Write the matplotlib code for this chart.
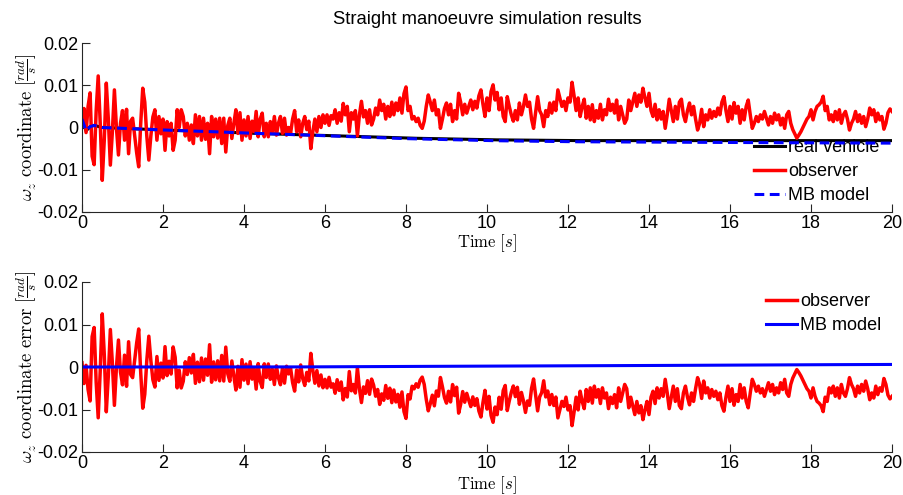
import numpy as np
import matplotlib
matplotlib.use("Agg")
import matplotlib.pyplot as plt

plt.rcParams["mathtext.fontset"] = "cm"
plt.rcParams["font.family"] = ["Liberation Sans", "DejaVu Sans"]

# Time base of the sampled traces [s]
t_obs = np.round(np.arange(0, 20.0001, 0.05), 2)

# Observer estimate of omega_z, in units of 1e-4 rad/s (one value every 0.05 s)
observer_e4 = [
    10, 45, -12, 50, 82, -68, -88, 40, 122, 10, -125, -30, 105, 20, -89, -10, 89, 0, -65, 10,
    40, -30, 43, -62, 15, 22, -20, -60, -93, 10, 93, 60, -20, -77, -20, 25, 42, -30, 26, -15,
    20, -54, 14, -20, 10, -54, -30, 42, 0, 42, 26, -20, 10, -30, 6, -38, 30, -20, 26, -30,
    22, -28, 10, -62, 26, -22, 20, -25, 22, -38, 22, -58, 5, 22, -26, 10, 42, -14, 35, -30,
    18, -20, 26, -26, 15, -10, 38, -22, 20, 34, -22, 10, -22, 14, -10, 26, -18, 10, 26, -14,
    22, -18, 0, -14, 20, 40, -10, 18, -22, 10, 26, -5, 15, -50, -10, 20, -10, 26, 0, 30,
    10, 30, 5, 28, 20, 42, 10, 35, 15, 57, 30, 50, -10, 35, 20, 40, -20, 30, 62, 25,
    40, 10, 42, 6, 20, 46, 30, 65, 40, 55, 20, 50, 26, 60, 30, 58, 40, 70, 34, 80,
    96, 40, 50, 20, 26, 14, 22, 5, -2, 15, 50, 77, 60, 40, 65, 30, 42, -2, 20, 45,
    58, 30, 55, 14, 40, 20, 81, 60, 30, 55, 34, 50, 65, 42, 62, 46, 75, 89, 55, 26,
    70, 40, 85, 101, 65, 83, 42, 70, 26, 14, 73, 50, 30, 15, 40, 18, 58, 30, 50, 77,
    50, 60, 20, -2, 35, 73, 40, 30, 2, 40, 26, 58, 34, 60, 40, 89, 70, 50, 62, 40,
    70, 60, 107, 75, 40, 70, 26, 50, 67, 22, 50, 18, 54, 14, 40, 22, 55, 18, 42, 30,
    67, 40, 55, 34, 65, 18, 50, 30, 10, 20, 65, 40, 60, 81, 50, 77, 60, 93, 70, 50,
    81, 40, 26, 55, 18, 42, 20, 38, -2, 30, 67, 40, 14, 50, 20, 60, 67, 30, 14, 40,
    58, 30, 50, 20, -6, 10, 43, 2, 30, 18, 42, 22, 38, 26, 46, 30, 60, 73, 40, 14,
    50, 20, 59, 34, 50, 10, 42, 18, 50, 65, 30, -2, 10, 26, 14, 30, 20, 38, 22, 6,
    26, 10, 34, 18, 30, 6, 22, -2, 30, 38, 10, -5, -15, -25, -18, -10, 0, 10, 20, 26,
    42, 18, 38, 50, 54, 60, 74, 40, 50, 18, 30, 14, 38, 18, 42, 10, 30, 38, 20, -6,
    10, 20, 38, 14, 30, 10, 26, 2, 20, 46, 30, 42, 14, 34, 18, 26, -4, 10, 35, 44,
    38,
]

# Real vehicle yaw rate, in units of 1e-4 rad/s
t_real = [0, 0.1, 0.2, 0.3, 0.5, 1, 2, 3, 4, 5, 6, 7, 8, 9, 10,
          11, 12, 13, 14, 15, 16, 17, 18, 19, 20]
real_e4 = [20, -8, 2, 5, 0, -2, -6, -9, -13, -16, -19, -22, -25, -27, -29,
           -30, -31, -31, -31, -31, -31, -31, -31, -31, -31]

# MB model deviation from the real vehicle (real - model), in units of 1e-4 rad/s
t_mb_err = [0, 5, 7, 10, 13, 17, 20]
mb_err_e4 = [0, 0, 1, 2, 3, 5, 6]

scale = 1e-4
observer = np.array(observer_e4) * scale
real_vehicle = np.interp(t_obs, t_real, real_e4) * scale
mb_error = np.interp(t_obs, t_mb_err, mb_err_e4) * scale
mb_model = real_vehicle - mb_error
observer_error = real_vehicle - observer

xticks = [0, 2, 4, 6, 8, 10, 12, 14, 16, 18, 20]
yticks = [-0.02, -0.01, 0, 0.01, 0.02]
ytick_labels = ["-0.02", "-0.01", "0", "0.01", "0.02"]

W, H = 904, 495
fig = plt.figure(figsize=(W / 100, H / 100), dpi=100)

ax1 = fig.add_axes([82 / W, 1 - 212 / H, 810 / W, 169 / H])
ax2 = fig.add_axes([82 / W, 1 - 452 / H, 810 / W, 170 / H])

lw = 2.0
red_lw = 2.5
ax1.plot(t_obs, real_vehicle, color="black", lw=2.2, label="real vehicle")
ax1.plot(t_obs, observer, color="red", lw=red_lw, label="observer")
ax1.plot(t_obs, mb_model, color="blue", lw=2.2, ls=(0, (3.2, 1.8)), label="MB model")

ax2.plot(t_obs, observer_error, color="red", lw=red_lw, label="observer")
ax2.plot(t_obs, mb_error, color="blue", lw=2.2, label="MB model")

axis_col = "#262626"
for ax in (ax1, ax2):
    ax.set_xlim(0, 20)
    ax.set_ylim(-0.02, 0.02)
    ax.set_xticks(xticks)
    ax.set_xticklabels([str(v) for v in xticks])
    ax.set_yticks(yticks)
    ax.set_yticklabels(ytick_labels)
    for s in ("top", "right"):
        ax.spines[s].set_visible(False)
    for s in ("left", "bottom"):
        ax.spines[s].set_color(axis_col)
        ax.spines[s].set_linewidth(0.8)
    ax.tick_params(direction="in", length=5.5, width=0.8, color=axis_col,
                   labelsize=13, pad=2.5, labelcolor="black")
    ax.set_xlabel(r"$\mathrm{Time}\ [s]$", fontsize=12)
    ax.xaxis.label.set_va("center")

ax1.xaxis.set_label_coords(0.5, -(243 - 212) / 169)
ax2.xaxis.set_label_coords(0.5, -(485 - 452) / 170)

ax1.set_ylabel(r"$\omega_z\ \mathrm{coordinate}\ \left[\frac{rad}{s}\right]$", fontsize=13.5)
ax2.set_ylabel(r"$\omega_z\ \mathrm{coordinate\ error}\ \left[\frac{rad}{s}\right]$", fontsize=13.5)
for ax in (ax1, ax2):
    ax.yaxis.label.set_va("center")
    ax.yaxis.set_label_coords((27 - 82) / 810, 0.5)

fig.text(487 / W, 1 - 19 / H, "Straight manoeuvre simulation results",
         ha="center", va="center", fontsize=13.3)

leg_kw = dict(frameon=False, fontsize=13, handlelength=1.7, handletextpad=0.2,
              labelspacing=0.4, borderpad=0, borderaxespad=0,
              bbox_transform=fig.transFigure, loc="upper left")
leg1 = ax1.legend(bbox_to_anchor=(754 / W, 1 - 139 / H), **leg_kw)
leg1.set_zorder(1)
leg2 = ax2.legend(bbox_to_anchor=(766 / W, 1 - 293 / H), **leg_kw)

fig.savefig("out.png", dpi=100)
